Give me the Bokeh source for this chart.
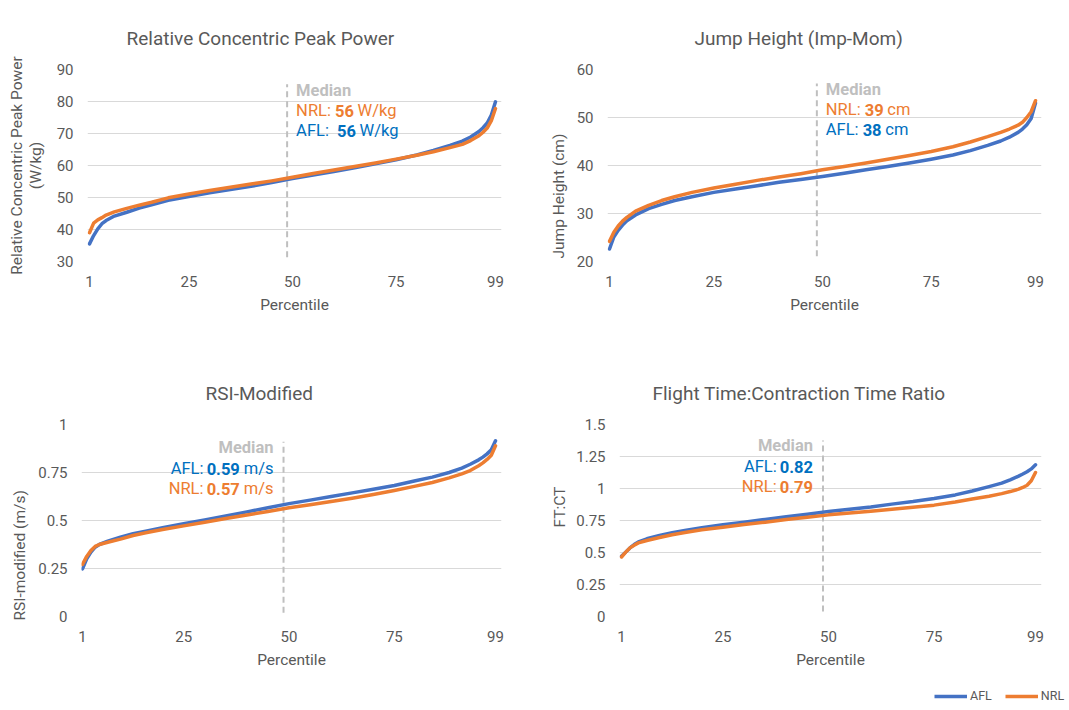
from bokeh.plotting import figure
from bokeh.layouts import column, row
from bokeh.models import (Range1d, FixedTicker, NumeralTickFormatter, Label, Legend, LegendItem,
                          Title)
from bokeh.embed import file_html
from bokeh.resources import INLINE

# ---------------- data ----------------
PERCENTILE = [1, 2, 3, 4, 5, 7, 10, 13, 16, 20, 25, 30, 35, 40, 45, 50, 55, 60, 65, 70,
              75, 80, 84, 88, 91, 93, 95, 96, 97, 98, 99]
X_TICKS = [1, 25, 50, 75, 99]

AFL_POWER = [35.5, 38.1, 40.2, 41.8, 42.8, 44.2, 45.4, 46.7, 47.7, 49.1, 50.3, 51.5, 52.5, 53.5,
             54.7, 55.9, 57.0, 58.1, 59.3, 60.5, 61.8, 63.3, 64.7, 66.3, 67.6, 68.9, 70.6, 71.8,
             73.3, 75.8, 79.9]
NRL_POWER = [39.0, 42.0, 43.0, 43.7, 44.5, 45.5, 46.6, 47.6, 48.5, 49.9, 51.1, 52.2, 53.2, 54.2,
             55.2, 56.3, 57.5, 58.6, 59.7, 60.8, 62.0, 63.2, 64.3, 65.6, 66.6, 67.8, 69.3, 70.4,
             71.7, 74.0, 77.8]

AFL_JUMP = [22.6, 25.1, 26.5, 27.6, 28.5, 29.7, 31.0, 31.9, 32.7, 33.5, 34.4, 35.1, 35.8, 36.5,
            37.1, 37.7, 38.4, 39.1, 39.8, 40.5, 41.3, 42.2, 43.1, 44.2, 45.1, 45.9, 46.9, 47.6,
            48.5, 49.8, 53.0]
NRL_JUMP = [24.2, 26.1, 27.4, 28.4, 29.2, 30.5, 31.7, 32.7, 33.5, 34.4, 35.3, 36.1, 36.9, 37.6,
            38.3, 39.1, 39.8, 40.5, 41.3, 42.1, 42.9, 43.9, 44.9, 46.0, 46.9, 47.6, 48.4, 49.0,
            50.0, 51.2, 53.5]

AFL_RSI = [0.248, 0.300, 0.335, 0.361, 0.375, 0.392, 0.413, 0.431, 0.444, 0.462, 0.483, 0.503,
           0.524, 0.545, 0.566, 0.588, 0.606, 0.625, 0.644, 0.663, 0.682, 0.707, 0.726, 0.750,
           0.773, 0.793, 0.816, 0.830, 0.847, 0.868, 0.915]
NRL_RSI = [0.271, 0.313, 0.344, 0.365, 0.375, 0.387, 0.403, 0.422, 0.436, 0.453, 0.472, 0.491,
           0.510, 0.529, 0.547, 0.566, 0.582, 0.599, 0.616, 0.635, 0.656, 0.679, 0.698, 0.722,
           0.743, 0.760, 0.785, 0.800, 0.818, 0.840, 0.889]

AFL_FTCT = [0.470, 0.503, 0.536, 0.562, 0.583, 0.607, 0.633, 0.654, 0.672, 0.693, 0.716, 0.737,
            0.758, 0.779, 0.799, 0.820, 0.838, 0.856, 0.878, 0.898, 0.922, 0.950, 0.980, 1.015,
            1.042, 1.068, 1.097, 1.113, 1.131, 1.153, 1.185]
NRL_FTCT = [0.465, 0.503, 0.536, 0.557, 0.575, 0.594, 0.617, 0.638, 0.656, 0.677, 0.698, 0.719,
            0.737, 0.758, 0.776, 0.794, 0.808, 0.822, 0.838, 0.853, 0.870, 0.895, 0.918, 0.940,
            0.960, 0.976, 0.995, 1.008, 1.025, 1.060, 1.125]

MEDIAN_X = 48.7

# ---------------- style ----------------
BLUE = "#4472C4"
ORANGE = "#ED7D31"
TXT_BLUE = "#0070C0"
GRAY = "#595959"
GRID = "#D9D9D9"
MED = "#BFBFBF"
FONT = "Roboto"
ANN_SIZE = 16.5

REG_W = {' ': .248, ':': .237, '.': .263, '/': .403, 'A': .652, 'F': .553, 'L': .539,
         'N': .713, 'R': .616, 'W': .887, 'c': .523, 'g': .560, 'k': .507, 'm': .876, 's': .515}
BOLD_W = {' ': .248, '.': .27, 'M': .874, 'e': .541, 'd': .563, 'i': .252, 'a': .543, 'n': .563}


def tw(s, bold):
    tab = BOLD_W if bold else REG_W
    return sum((.562 if ch.isdigit() else tab.get(ch, .55)) for ch in s) * ANN_SIZE


def add_piece(p, ytop, off, yoff, t, b, color, align):
    p.add_layout(Label(x=MEDIAN_X, y=ytop, x_offset=off, y_offset=yoff, text=t,
                       text_font=FONT, text_font_size=f"{ANN_SIZE}px",
                       text_font_style="bold" if b else "normal", text_color=color,
                       text_align=align, text_baseline="middle"))


def add_rich(p, ytop, yoff, pieces, color, align, base_off):
    off = base_off
    seq = pieces if align == "left" else list(reversed(pieces))
    for t, b in seq:
        if align == "left":
            if t.strip():
                add_piece(p, ytop, off, yoff, t, b, color, "left")
            off += tw(t, b)
        else:
            if t.strip():
                add_piece(p, ytop, off, yoff, t, b, color, "right")
            off -= tw(t, b)


def make_panel(title, ylabel, width, height, borders, xr, yr, yticks, afl, nrl,
               title_offset, med_y, ann, align, base_off):
    bl, br, bt, bb = borders
    p = figure(width=width, height=height, x_range=Range1d(*xr), y_range=Range1d(*yr),
               output_backend="svg", toolbar_location=None, title=title,
               min_border_left=bl, min_border_right=br, min_border_top=bt, min_border_bottom=bb)
    p.outline_line_color = None
    p.title.text_font = FONT
    p.title.text_font_size = "19px"
    p.title.text_font_style = "normal"
    p.title.text_color = GRAY
    p.title.align = "left"
    p.title.vertical_align = "middle"
    p.title.offset = title_offset
    p.title.standoff = 38

    p.xaxis.ticker = FixedTicker(ticks=X_TICKS)
    p.yaxis.ticker = FixedTicker(ticks=yticks)
    p.yaxis.formatter = NumeralTickFormatter(format="0.[00]")
    for ax in (p.xaxis[0], p.yaxis[0]):
        ax.axis_line_color = None
        ax.major_tick_line_color = None
        ax.minor_tick_line_color = None
        ax.major_tick_out = 0
        ax.major_tick_in = 0
        ax.major_label_text_font = FONT
        ax.major_label_text_font_size = "15px"
        ax.major_label_text_color = GRAY
        ax.axis_label_text_font = FONT
        ax.axis_label_text_font_size = "15.5px"
        ax.axis_label_text_font_style = "normal"
        ax.axis_label_text_color = GRAY
    p.xaxis.axis_label = "Percentile"
    p.xaxis.major_label_standoff = 14
    p.xaxis.axis_label_standoff = 6
    p.yaxis.major_label_standoff = 14

    # y-axis title
    if ylabel[0] == "axis":
        _, text, stand = ylabel
        p.yaxis.axis_label = text
        p.yaxis.axis_label_standoff = stand
        p.yaxis.axis_label_text_line_height = 1.05
    else:
        _, text, yal, off, stand = ylabel
        p.add_layout(Title(text=text, align=yal, offset=off, standoff=stand,
                           text_font=FONT, text_font_size="15.5px", text_font_style="normal",
                           text_color=GRAY), "left")

    p.xgrid.visible = False
    p.ygrid.grid_line_color = GRID
    p.ygrid.grid_line_width = 1

    p.segment(x0=[MEDIAN_X], y0=[med_y[0]], x1=[MEDIAN_X], y1=[med_y[1]],
              line_color=MED, line_width=2, line_dash="6 4")

    p.line(PERCENTILE, afl, line_color=BLUE, line_width=3.5, line_join="round", line_cap="round")
    p.line(PERCENTILE, nrl, line_color=ORANGE, line_width=3.5, line_join="round",
           line_cap="round")

    for yoff, color, pieces in ann:
        add_rich(p, yr[1], yoff, pieces, color, align, base_off)
    return p


R, B = False, True

p1 = make_panel(
    "Relative Concentric Peak Power",
    ("axis", "Relative Concentric Peak Power\n(W/kg)", 9),
    540, 360, (87, 39, 69, 99), (0.517, 100.45),
    (30, 90), [30, 40, 50, 60, 70, 80, 90], AFL_POWER, NRL_POWER, 39, (31.3, 85.4),
    [(-21, MED, [("Median", B)]),
     (-41, ORANGE, [("NRL:", R), (" ", R), ("56", B), (" ", R), ("W/kg", R)]),
     (-61, TXT_BLUE, [("AFL:", R), ("  ", R), ("56", B), (" ", R), ("W/kg", R)])],
    "left", 9)

p2 = make_panel(
    "Jump Height (Imp-Mom)", ("title", "Jump Height (cm)", "left", 3, 12),
    528, 360, (67, 27, 69, 99), (0.54, 100.38),
    (20, 60), [20, 30, 40, 50, 60], AFL_JUMP, NRL_JUMP, 87, (21.1, 57.1),
    [(-20, MED, [("Median", B)]),
     (-40, ORANGE, [("NRL:", R), (" ", R), ("39", B), (" ", R), ("cm", R)]),
     (-60, TXT_BLUE, [("AFL:", R), (" ", R), ("38", B), (" ", R), ("cm", R)])],
    "left", 9)

p3 = make_panel(
    "RSI-Modified", ("title", "RSI-modified (m/s)", "left", -4, 14),
    540, 326, (81, 39, 64, 70), (0.763, 100.42),
    (0, 1), [0, 0.25, 0.5, 0.75, 1], AFL_RSI, NRL_RSI, 124, (0.02, 0.91),
    [(-23, MED, [("Median", B)]),
     (-44, TXT_BLUE, [("AFL:", R), (" ", R), ("0.59", B), (" ", R), ("m/s", R)]),
     (-64, ORANGE, [("NRL:", R), (" ", R), ("0.57", B), (" ", R), ("m/s", R)])],
    "right", -10)

p4 = make_panel(
    "Flight Time:Contraction Time Ratio", ("title", "FT:CT", "left", 89, 10),
    528, 326, (79, 27, 64, 70), (0.527, 100.42),
    (0, 1.5), [0, 0.25, 0.5, 0.75, 1, 1.25, 1.5], AFL_FTCT, NRL_FTCT, 33, (0.04, 1.375),
    [(-21, MED, [("Median", B)]),
     (-42, TXT_BLUE, [("AFL:", R), (" ", R), ("0.82", B)]),
     (-62, ORANGE, [("NRL:", R), (" ", R), ("0.79", B)])],
    "right", -10)

# ---------------- legend strip (its lines lie outside the strip's view) ----------------
leg = figure(width=1068, height=22, output_backend="svg", toolbar_location=None,
             x_axis_location=None, y_axis_location=None, min_border=0,
             x_range=Range1d(200, 300), y_range=Range1d(200, 300))
leg.outline_line_color = None
leg.grid.visible = False
r_afl = leg.line(PERCENTILE, AFL_FTCT, line_color=BLUE, line_width=3.5)
r_nrl = leg.line(PERCENTILE, NRL_FTCT, line_color=ORANGE, line_width=3.5)
legend = Legend(items=[LegendItem(label="AFL", renderers=[r_afl]),
                       LegendItem(label="NRL", renderers=[r_nrl])],
                location=(934, 5), orientation="horizontal", glyph_width=33, glyph_height=12,
                label_height=12, label_standoff=3, spacing=13, padding=0, margin=0,
                border_line_color=None, background_fill_alpha=0,
                label_text_font=FONT, label_text_font_size="12.5px", label_text_color=GRAY)
leg.add_layout(legend)

layout = column(row(p1, p2), row(p3, p4), leg)
open("out.html", "w").write(file_html(layout, INLINE))
